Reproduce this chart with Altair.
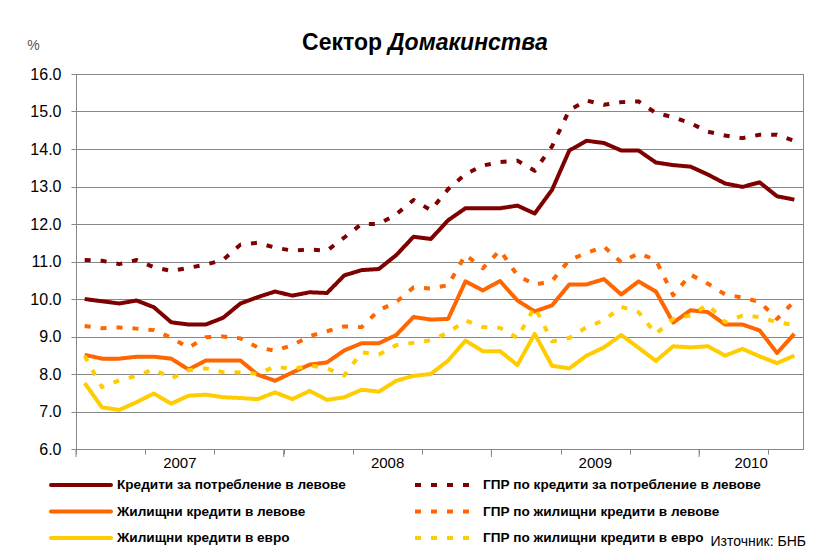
import altair as alt
import pandas as pd

# ---------------- data ----------------
years = ["2007", "2008", "2009", "2010"]
months_in_year = [12, 12, 12, 6]

series_names = [
    "Кредити за потребление в левове",
    "ГПР по кредити за потребление в левове",
    "Жилищни кредити в левове",
    "ГПР по жилищни кредити в левове",
    "Жилищни кредити в евро",
    "ГПР по жилищни кредити в евро",
]

consumer_bgn = [10.0, 9.94, 9.88, 9.96, 9.78, 9.38, 9.32, 9.32, 9.5, 9.88,
                10.05, 10.2, 10.09, 10.18, 10.16, 10.63, 10.77, 10.8, 11.17, 11.66,
                11.6, 12.1, 12.42, 12.42, 12.42, 12.49, 12.28, 12.91, 13.96, 14.22,
                14.16, 13.96, 13.96, 13.64, 13.57, 13.53, 13.32, 13.08, 12.99, 13.11,
                12.74, 12.65]
apr_consumer_bgn = [11.04, 11.02, 10.93, 11.04, 10.85, 10.75, 10.83, 10.92, 11.04, 11.45,
                    11.5, 11.37, 11.29, 11.32, 11.29, 11.64, 12.0, 12.0, 12.26, 12.64,
                    12.37, 12.93, 13.33, 13.56, 13.65, 13.69, 13.42, 14.07, 15.04, 15.29,
                    15.18, 15.25, 15.27, 14.96, 14.85, 14.69, 14.46, 14.36, 14.29, 14.38,
                    14.38, 14.22]
housing_bgn = [8.51, 8.41, 8.41, 8.46, 8.46, 8.41, 8.12, 8.36, 8.36, 8.36,
               7.98, 7.82, 8.04, 8.25, 8.31, 8.63, 8.82, 8.82, 9.04, 9.52,
               9.45, 9.47, 10.47, 10.23, 10.48, 9.96, 9.67, 9.83, 10.39, 10.39,
               10.53, 10.12, 10.47, 10.2, 9.37, 9.7, 9.65, 9.32, 9.32, 9.16,
               8.56, 9.07]
apr_housing_bgn = [9.28, 9.22, 9.24, 9.21, 9.17, 8.97, 8.7, 8.98, 9.0, 8.95,
                   8.71, 8.62, 8.77, 9.01, 9.14, 9.27, 9.25, 9.7, 9.92, 10.31,
                   10.28, 10.37, 11.18, 10.82, 11.3, 10.63, 10.38, 10.48, 11.04, 11.23,
                   11.4, 10.98, 11.22, 11.04, 10.1, 10.65, 10.41, 10.12, 10.04, 9.92,
                   9.47, 9.94]
housing_eur = [7.76, 7.11, 7.04, 7.25, 7.48, 7.21, 7.42, 7.45, 7.38, 7.36,
               7.33, 7.51, 7.33, 7.55, 7.31, 7.38, 7.58, 7.53, 7.82, 7.95,
               8.0, 8.36, 8.89, 8.61, 8.61, 8.24, 9.07, 8.22, 8.15, 8.49,
               8.71, 9.04, 8.7, 8.35, 8.74, 8.71, 8.74, 8.49, 8.67, 8.47,
               8.29, 8.49]
apr_housing_eur = [8.48, 7.65, 7.83, 7.95, 8.13, 7.88, 8.1, 8.15, 8.05, 8.04,
                   8.0, 8.2, 8.13, 8.23, 8.15, 7.96, 8.58, 8.52, 8.77, 8.83,
                   8.9, 9.1, 9.43, 9.25, 9.23, 8.96, 9.79, 8.87, 8.96, 9.25,
                   9.43, 9.79, 9.65, 9.07, 9.47, 9.56, 9.85, 9.38, 9.56, 9.52,
                   9.38, 9.31]

y_ticks = [6, 7, 8, 9, 10, 11, 12, 13, 14, 15, 16]

# ---------------- styles ----------------
colors = ["#7F0000", "#7F0000", "#FF6600", "#FF6600", "#FFCC00", "#FFCC00"]
dashes = [[1, 0], [6, 10], [1, 0], [6, 10], [1, 0], [6, 10]]
FONT = "Liberation Sans"
GRID = "#878787"
W, H = 727, 375

# ---------------- tables ----------------
all_series = [consumer_bgn, apr_consumer_bgn, housing_bgn, apr_housing_bgn,
              housing_eur, apr_housing_eur]
rows = []
for name, vals in zip(series_names, all_series):
    for i, v in enumerate(vals):
        rows.append({"m": i, "series": name, "value": v})
df = pd.DataFrame(rows)

n_months = sum(months_in_year)
starts = [sum(months_in_year[:k]) for k in range(len(years))]
year_df = pd.DataFrame({
    "year": years,
    "center": [s + c / 2 - 0.5 for s, c in zip(starts, months_in_year)],
    "bound": [s - 0.5 for s in starts],
})

leg_df = pd.DataFrame({
    "series": series_names,
    "col": [k % 2 for k in range(len(series_names))],
    "row": [k // 2 for k in range(len(series_names))],
})

xscale = alt.Scale(domain=[-0.5, n_months - 0.5], nice=False, zero=False)
yscale = alt.Scale(domain=[6, 16], nice=False, zero=False)
cscale = alt.Scale(domain=series_names, range=colors)
dscale = alt.Scale(domain=series_names, range=dashes)

lines = alt.Chart(df).mark_line(strokeWidth=4, strokeJoin="round").encode(
    x=alt.X("m:Q", scale=xscale,
            axis=alt.Axis(values=[k - 0.5 for k in range(n_months + 1)],
                          labels=False, title=None, grid=False, tickSize=5,
                          tickColor=GRID, domainColor=GRID)),
    y=alt.Y("value:Q", scale=yscale,
            axis=alt.Axis(values=y_ticks, format=".1f", grid=True,
                          gridColor=GRID, tickSize=5, tickColor=GRID,
                          domainColor=GRID, labelFontSize=16, labelFont=FONT,
                          labelColor="black", labelPadding=10,
                          title="%", titleAngle=0, titleX=-43, titleY=-29,
                          titleAlign="center", titleBaseline="middle",
                          titleFontSize=14, titleFont=FONT,
                          titleFontWeight="normal", titleColor="#555555")),
    color=alt.Color("series:N", scale=cscale, legend=None),
    strokeDash=alt.StrokeDash("series:N", scale=dscale, legend=None),
    order=alt.Order("m:Q"),
)

major_ticks = alt.Chart(year_df).mark_rule(color=GRID, strokeWidth=1).encode(
    x=alt.X("bound:Q", scale=xscale),
    y=alt.value(H), y2=alt.value(H + 8),
)

year_labels = alt.Chart(year_df).mark_text(
    font=FONT, fontSize=15, color="black", baseline="middle"
).encode(
    x=alt.X("center:Q", scale=xscale),
    y=alt.value(H + 14),
    text="year:N",
)

# ---- manual two-column legend ----
leg_base = alt.Chart(leg_df).transform_calculate(
    sx0="datum.col == 0 ? -25 : 339",
    sx1="datum.col == 0 ? 35 : 397",
    tx="datum.col == 0 ? 41 : 407",
    ly="411 + datum.row * 26.5",
)
leg_solid = leg_base.transform_filter("datum.col == 0").mark_rule(
    strokeWidth=4, strokeCap="round"
).encode(
    x=alt.X("sx0:Q", scale=None), x2="sx1:Q",
    y=alt.Y("ly:Q", scale=None),
    color=alt.Color("series:N", scale=cscale, legend=None),
)
leg_dash = leg_base.transform_filter("datum.col == 1").mark_rule(
    strokeWidth=4, strokeCap="butt"
).encode(
    x=alt.X("sx0:Q", scale=None), x2="sx1:Q",
    y=alt.Y("ly:Q", scale=None),
    color=alt.Color("series:N", scale=cscale, legend=None),
    strokeDash=alt.StrokeDash("series:N", scale=dscale, legend=None),
)
leg_text = leg_base.mark_text(
    font=FONT, fontSize=13.6, fontWeight="bold", align="left",
    baseline="middle", color="black"
).encode(
    x=alt.X("tx:Q", scale=None),
    y=alt.Y("ly:Q", scale=None),
    text="series:N",
)

title_a = alt.Chart(pd.DataFrame({"t": ["Сектор"]})).mark_text(
    font=FONT, fontSize=23, fontWeight="bold", align="right",
    baseline="middle", color="black"
).encode(x=alt.value(306), y=alt.value(-31), text="t:N")

title_b = alt.Chart(pd.DataFrame({"t": ["Домакинства"]})).mark_text(
    font=FONT, fontSize=23, fontWeight="bold", fontStyle="italic",
    align="left", baseline="middle", color="black"
).encode(x=alt.value(312), y=alt.value(-31), text="t:N")

source = alt.Chart(pd.DataFrame({"t": ["Източник: БНБ"]})).mark_text(
    font=FONT, fontSize=14, align="right", baseline="alphabetic",
    color="black"
).encode(x=alt.value(730), y=alt.value(472), text="t:N")

chart = alt.layer(
    lines, major_ticks, year_labels, leg_solid, leg_dash, leg_text,
    title_a, title_b, source
).properties(
    width=W, height=H,
    autosize=alt.AutoSizeParams(type="none"),
    padding={"left": 68, "top": 66, "right": 6, "bottom": 99},
    background="white",
).configure_view(stroke=GRID, strokeWidth=1)

chart.save("out.html", embed_options={"renderer": "svg", "actions": False})
